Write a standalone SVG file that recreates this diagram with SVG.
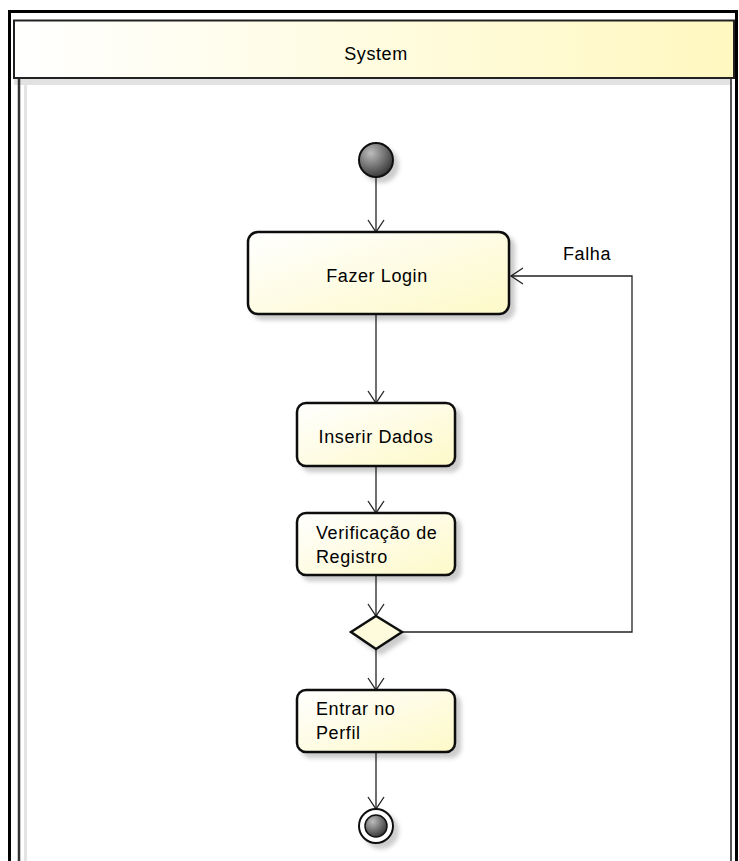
<svg xmlns="http://www.w3.org/2000/svg" width="739" height="861" viewBox="0 0 739 861">
<style>
text{font-family:"Liberation Sans",Arial,sans-serif;font-size:18px;letter-spacing:0.6px;fill:#000}
.box{stroke:#111;stroke-width:2.5;fill:url(#g)}
.conn{stroke:#222;stroke-width:1.3;fill:none}
</style>
<defs>
<linearGradient id="g" x1="0" y1="0" x2="1" y2="1">
<stop offset="0" stop-color="#ffffff"/><stop offset="1" stop-color="#fdf9c8"/>
</linearGradient>
<linearGradient id="hg" x1="0" y1="0" x2="1" y2="0">
<stop offset="0" stop-color="#ffffff"/><stop offset="1" stop-color="#fff8c0"/>
</linearGradient>
<radialGradient id="ball" cx="0.35" cy="0.3" r="0.8">
<stop offset="0" stop-color="#bdbdbd"/><stop offset="1" stop-color="#2a2a2a"/>
</radialGradient>
<filter id="sh" x="-20%" y="-20%" width="150%" height="150%">
<feDropShadow dx="5" dy="5" stdDeviation="2" flood-color="#000" flood-opacity="0.2"/>
</filter>
<marker id="arr" markerUnits="userSpaceOnUse" markerWidth="30" markerHeight="30" viewBox="-15 -15 30 30" refX="0" refY="0" orient="auto">
<path d="M-12,-8 L0,0 L-12,8" fill="none" stroke="#222" stroke-width="1.3"/>
</marker>
</defs>
<rect width="739" height="861" fill="#fff"/>
<g id="frame">
<path d="M9.5,861 V11.5 H736.5 V861" fill="none" stroke="#000" stroke-width="3"/>
<rect x="24" y="78" width="3" height="783" fill="#e4e4e4"/>
<rect x="14" y="79" width="718" height="6" fill="#e2e2e2"/>
<line x1="19" y1="78" x2="19" y2="861" stroke="#333" stroke-width="2.5"/>
<line x1="731" y1="78" x2="731" y2="861" stroke="#555" stroke-width="2"/>
</g>
<g id="lane-header">
<rect x="14" y="20.5" width="720" height="57.5" fill="url(#hg)" stroke="#222" stroke-width="2"/>
<text x="376" y="60" text-anchor="middle">System</text>
</g>
<g id="connectors">
<line class="conn" x1="376" y1="178" x2="376" y2="232" marker-end="url(#arr)"/>
<line class="conn" x1="376" y1="314" x2="376" y2="403" marker-end="url(#arr)"/>
<line class="conn" x1="376" y1="466" x2="376" y2="513" marker-end="url(#arr)"/>
<line class="conn" x1="376" y1="575" x2="376" y2="616" marker-end="url(#arr)"/>
<line class="conn" x1="376" y1="649" x2="376" y2="690" marker-end="url(#arr)"/>
<line class="conn" x1="376" y1="752" x2="376" y2="809" marker-end="url(#arr)"/>
<polyline class="conn" points="402,632 632,632 632,276 511,276" marker-end="url(#arr)"/>
<text x="563" y="260">Falha</text>
</g>
<g id="start">
<circle cx="376" cy="160" r="17" fill="url(#ball)" stroke="#111" stroke-width="2" filter="url(#sh)"/>
</g>
<g id="fazer-login">
<rect class="box" x="248" y="232" width="261" height="82" rx="10" filter="url(#sh)"/>
<text x="377" y="282" text-anchor="middle">Fazer Login</text>
</g>
<g id="inserir-dados">
<rect class="box" x="297" y="403" width="158" height="63" rx="9" filter="url(#sh)"/>
<text x="376" y="443" text-anchor="middle">Inserir Dados</text>
</g>
<g id="verificacao">
<rect class="box" x="297" y="513" width="158" height="62" rx="9" filter="url(#sh)"/>
<text x="316" y="539">Verificação de</text>
<text x="316" y="563">Registro</text>
</g>
<g id="decision">
<polygon points="376,616 402,632 376,649 351,632" fill="#fdfbdc" stroke="#111" stroke-width="2.5" filter="url(#sh)"/>
</g>
<g id="entrar-perfil">
<rect class="box" x="297" y="690" width="158" height="62" rx="9" filter="url(#sh)"/>
<text x="316" y="715">Entrar no</text>
<text x="316" y="739">Perfil</text>
</g>
<g id="end">
<circle cx="376" cy="826" r="17" fill="#fff" stroke="#111" stroke-width="2" filter="url(#sh)"/>
<circle cx="376" cy="826" r="11" fill="url(#ball)" stroke="#111" stroke-width="1.5"/>
</g>
</svg>
